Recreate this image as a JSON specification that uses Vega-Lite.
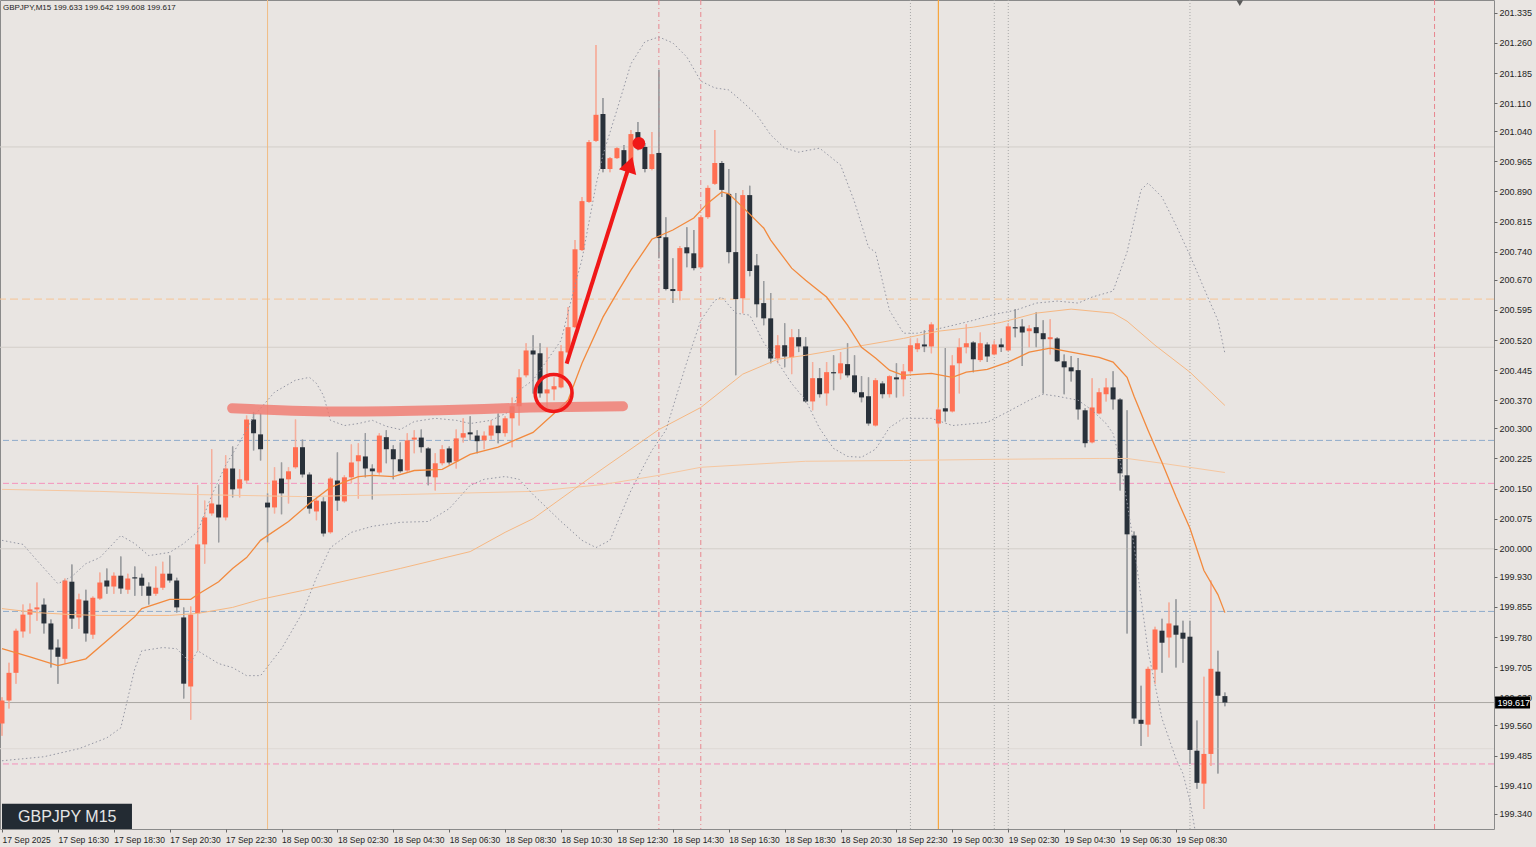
{
"$schema": "https://vega.github.io/schema/vega-lite/v6.json",
"width": 1494, "height": 829,
"autosize": {"type": "none"},
"padding": {"left": 0, "top": 0, "right": 42, "bottom": 18},
"background": "#E9E5E2",
"config": {"view": {"stroke": "#8A8A8A", "strokeWidth": 1}},
"resolve": {"axis": {"x": "independent", "y": "independent"}},
"datasets": {
"c": [
{"t":"2025-09-17T14:30Z","o":199.565,"h":199.630,"l":199.534,"c":199.622},
{"t":"2025-09-17T14:45Z","o":199.622,"h":199.716,"l":199.602,"c":199.691},
{"t":"2025-09-17T15:00Z","o":199.691,"h":199.801,"l":199.664,"c":199.796},
{"t":"2025-09-17T15:15Z","o":199.794,"h":199.861,"l":199.779,"c":199.836},
{"t":"2025-09-17T15:30Z","o":199.836,"h":199.864,"l":199.789,"c":199.849},
{"t":"2025-09-17T15:45Z","o":199.849,"h":199.916,"l":199.821,"c":199.854},
{"t":"2025-09-17T16:00Z","o":199.861,"h":199.876,"l":199.789,"c":199.814},
{"t":"2025-09-17T16:15Z","o":199.814,"h":199.824,"l":199.704,"c":199.749},
{"t":"2025-09-17T16:30Z","o":199.754,"h":199.774,"l":199.664,"c":199.731},
{"t":"2025-09-17T16:45Z","o":199.726,"h":199.926,"l":199.714,"c":199.921},
{"t":"2025-09-17T17:00Z","o":199.918,"h":199.961,"l":199.801,"c":199.826},
{"t":"2025-09-17T17:15Z","o":199.829,"h":199.888,"l":199.801,"c":199.874},
{"t":"2025-09-17T17:30Z","o":199.871,"h":199.898,"l":199.769,"c":199.789},
{"t":"2025-09-17T17:45Z","o":199.786,"h":199.881,"l":199.776,"c":199.878},
{"t":"2025-09-17T18:00Z","o":199.876,"h":199.941,"l":199.873,"c":199.916},
{"t":"2025-09-17T18:15Z","o":199.921,"h":199.951,"l":199.888,"c":199.906},
{"t":"2025-09-17T18:30Z","o":199.906,"h":199.941,"l":199.888,"c":199.933},
{"t":"2025-09-17T18:45Z","o":199.933,"h":199.981,"l":199.888,"c":199.901},
{"t":"2025-09-17T19:00Z","o":199.898,"h":199.938,"l":199.888,"c":199.926},
{"t":"2025-09-17T19:15Z","o":199.929,"h":199.956,"l":199.883,"c":199.926},
{"t":"2025-09-17T19:30Z","o":199.928,"h":199.938,"l":199.883,"c":199.908},
{"t":"2025-09-17T19:45Z","o":199.906,"h":199.916,"l":199.861,"c":199.883},
{"t":"2025-09-17T20:00Z","o":199.888,"h":199.956,"l":199.883,"c":199.903},
{"t":"2025-09-17T20:15Z","o":199.903,"h":199.968,"l":199.898,"c":199.938},
{"t":"2025-09-17T20:30Z","o":199.938,"h":199.983,"l":199.916,"c":199.921},
{"t":"2025-09-17T20:45Z","o":199.921,"h":199.928,"l":199.841,"c":199.854},
{"t":"2025-09-17T21:00Z","o":199.829,"h":199.854,"l":199.627,"c":199.664},
{"t":"2025-09-17T21:15Z","o":199.657,"h":199.856,"l":199.574,"c":199.836},
{"t":"2025-09-17T21:30Z","o":199.839,"h":200.158,"l":199.746,"c":200.011},
{"t":"2025-09-17T21:45Z","o":200.011,"h":200.120,"l":199.963,"c":200.078},
{"t":"2025-09-17T22:00Z","o":200.088,"h":200.248,"l":200.083,"c":200.113},
{"t":"2025-09-17T22:15Z","o":200.110,"h":200.160,"l":200.016,"c":200.078},
{"t":"2025-09-17T22:30Z","o":200.078,"h":200.233,"l":200.071,"c":200.200},
{"t":"2025-09-17T22:45Z","o":200.200,"h":200.255,"l":200.128,"c":200.148},
{"t":"2025-09-17T23:00Z","o":200.150,"h":200.198,"l":200.128,"c":200.173},
{"t":"2025-09-17T23:15Z","o":200.170,"h":200.332,"l":200.163,"c":200.322},
{"t":"2025-09-17T23:30Z","o":200.322,"h":200.340,"l":200.245,"c":200.288},
{"t":"2025-09-17T23:45Z","o":200.285,"h":200.337,"l":200.220,"c":200.248},
{"t":"2025-09-18T00:00Z","o":200.115,"h":200.138,"l":200.016,"c":200.103},
{"t":"2025-09-18T00:15Z","o":200.103,"h":200.203,"l":200.088,"c":200.170},
{"t":"2025-09-18T00:30Z","o":200.175,"h":200.215,"l":200.086,"c":200.138},
{"t":"2025-09-18T00:45Z","o":200.173,"h":200.203,"l":200.113,"c":200.193},
{"t":"2025-09-18T01:00Z","o":200.203,"h":200.322,"l":200.200,"c":200.253},
{"t":"2025-09-18T01:15Z","o":200.253,"h":200.272,"l":200.178,"c":200.185},
{"t":"2025-09-18T01:30Z","o":200.185,"h":200.190,"l":200.088,"c":200.100},
{"t":"2025-09-18T01:45Z","o":200.093,"h":200.128,"l":200.071,"c":200.120},
{"t":"2025-09-18T02:00Z","o":200.118,"h":200.128,"l":200.031,"c":200.038},
{"t":"2025-09-18T02:15Z","o":200.041,"h":200.178,"l":200.038,"c":200.175},
{"t":"2025-09-18T02:30Z","o":200.170,"h":200.240,"l":200.095,"c":200.120},
{"t":"2025-09-18T02:45Z","o":200.118,"h":200.183,"l":200.115,"c":200.178},
{"t":"2025-09-18T03:00Z","o":200.178,"h":200.260,"l":200.163,"c":200.215},
{"t":"2025-09-18T03:15Z","o":200.218,"h":200.263,"l":200.125,"c":200.233},
{"t":"2025-09-18T03:30Z","o":200.230,"h":200.288,"l":200.178,"c":200.200},
{"t":"2025-09-18T03:45Z","o":200.200,"h":200.210,"l":200.123,"c":200.193},
{"t":"2025-09-18T04:00Z","o":200.190,"h":200.288,"l":200.185,"c":200.282},
{"t":"2025-09-18T04:15Z","o":200.278,"h":200.295,"l":200.213,"c":200.248},
{"t":"2025-09-18T04:30Z","o":200.248,"h":200.258,"l":200.173,"c":200.223},
{"t":"2025-09-18T04:45Z","o":200.223,"h":200.265,"l":200.190,"c":200.193},
{"t":"2025-09-18T05:00Z","o":200.195,"h":200.288,"l":200.190,"c":200.270},
{"t":"2025-09-18T05:15Z","o":200.272,"h":200.295,"l":200.238,"c":200.277},
{"t":"2025-09-18T05:30Z","o":200.277,"h":200.297,"l":200.240,"c":200.253},
{"t":"2025-09-18T05:45Z","o":200.250,"h":200.253,"l":200.158,"c":200.180},
{"t":"2025-09-18T06:00Z","o":200.178,"h":200.238,"l":200.145,"c":200.213},
{"t":"2025-09-18T06:15Z","o":200.213,"h":200.258,"l":200.208,"c":200.248},
{"t":"2025-09-18T06:30Z","o":200.250,"h":200.255,"l":200.210,"c":200.215},
{"t":"2025-09-18T06:45Z","o":200.218,"h":200.297,"l":200.200,"c":200.275},
{"t":"2025-09-18T07:00Z","o":200.277,"h":200.325,"l":200.265,"c":200.288},
{"t":"2025-09-18T07:15Z","o":200.290,"h":200.330,"l":200.270,"c":200.285},
{"t":"2025-09-18T07:30Z","o":200.282,"h":200.295,"l":200.238,"c":200.268},
{"t":"2025-09-18T07:45Z","o":200.270,"h":200.292,"l":200.248,"c":200.282},
{"t":"2025-09-18T08:00Z","o":200.282,"h":200.320,"l":200.272,"c":200.307},
{"t":"2025-09-18T08:15Z","o":200.307,"h":200.337,"l":200.263,"c":200.288},
{"t":"2025-09-18T08:30Z","o":200.288,"h":200.330,"l":200.280,"c":200.325},
{"t":"2025-09-18T08:45Z","o":200.325,"h":200.377,"l":200.253,"c":200.355},
{"t":"2025-09-18T09:00Z","o":200.355,"h":200.447,"l":200.307,"c":200.427},
{"t":"2025-09-18T09:15Z","o":200.432,"h":200.512,"l":200.427,"c":200.494},
{"t":"2025-09-18T09:30Z","o":200.494,"h":200.532,"l":200.387,"c":200.484},
{"t":"2025-09-18T09:45Z","o":200.487,"h":200.512,"l":200.377,"c":200.387},
{"t":"2025-09-18T10:00Z","o":200.387,"h":200.502,"l":200.350,"c":200.397},
{"t":"2025-09-18T10:15Z","o":200.397,"h":200.427,"l":200.370,"c":200.405},
{"t":"2025-09-18T10:30Z","o":200.402,"h":200.507,"l":200.400,"c":200.492},
{"t":"2025-09-18T10:45Z","o":200.489,"h":200.602,"l":200.487,"c":200.552},
{"t":"2025-09-18T11:00Z","o":200.552,"h":200.769,"l":200.550,"c":200.746},
{"t":"2025-09-18T11:15Z","o":200.744,"h":200.876,"l":200.742,"c":200.866},
{"t":"2025-09-18T11:30Z","o":200.864,"h":201.018,"l":200.862,"c":201.013},
{"t":"2025-09-18T11:45Z","o":201.016,"h":201.255,"l":201.013,"c":201.081},
{"t":"2025-09-18T12:00Z","o":201.083,"h":201.123,"l":200.938,"c":200.946},
{"t":"2025-09-18T12:15Z","o":200.946,"h":200.976,"l":200.938,"c":200.973},
{"t":"2025-09-18T12:30Z","o":200.973,"h":201.001,"l":200.971,"c":200.998},
{"t":"2025-09-18T12:45Z","o":200.993,"h":201.006,"l":200.943,"c":200.951},
{"t":"2025-09-18T13:00Z","o":200.951,"h":201.043,"l":200.948,"c":201.033},
{"t":"2025-09-18T13:15Z","o":201.038,"h":201.063,"l":200.993,"c":201.001},
{"t":"2025-09-18T13:30Z","o":201.001,"h":201.011,"l":200.938,"c":200.946},
{"t":"2025-09-18T13:45Z","o":200.946,"h":201.038,"l":200.943,"c":200.983},
{"t":"2025-09-18T14:00Z","o":200.986,"h":201.193,"l":200.724,"c":200.774},
{"t":"2025-09-18T14:15Z","o":200.776,"h":200.826,"l":200.644,"c":200.647},
{"t":"2025-09-18T14:30Z","o":200.647,"h":200.724,"l":200.612,"c":200.642},
{"t":"2025-09-18T14:45Z","o":200.642,"h":200.754,"l":200.619,"c":200.749},
{"t":"2025-09-18T15:00Z","o":200.751,"h":200.801,"l":200.701,"c":200.736},
{"t":"2025-09-18T15:15Z","o":200.736,"h":200.794,"l":200.694,"c":200.699},
{"t":"2025-09-18T15:30Z","o":200.701,"h":200.831,"l":200.699,"c":200.826},
{"t":"2025-09-18T15:45Z","o":200.826,"h":200.905,"l":200.822,"c":200.899},
{"t":"2025-09-18T16:00Z","o":200.909,"h":201.043,"l":200.906,"c":200.961},
{"t":"2025-09-18T16:15Z","o":200.961,"h":200.966,"l":200.876,"c":200.894},
{"t":"2025-09-18T16:30Z","o":200.884,"h":200.946,"l":200.711,"c":200.739},
{"t":"2025-09-18T16:45Z","o":200.739,"h":200.886,"l":200.432,"c":200.622},
{"t":"2025-09-18T17:00Z","o":200.624,"h":200.894,"l":200.587,"c":200.881},
{"t":"2025-09-18T17:15Z","o":200.881,"h":200.904,"l":200.679,"c":200.692},
{"t":"2025-09-18T17:30Z","o":200.706,"h":200.734,"l":200.577,"c":200.609},
{"t":"2025-09-18T17:45Z","o":200.612,"h":200.667,"l":200.557,"c":200.574},
{"t":"2025-09-18T18:00Z","o":200.574,"h":200.637,"l":200.462,"c":200.474},
{"t":"2025-09-18T18:15Z","o":200.474,"h":200.532,"l":200.462,"c":200.507},
{"t":"2025-09-18T18:30Z","o":200.507,"h":200.562,"l":200.452,"c":200.479},
{"t":"2025-09-18T18:45Z","o":200.477,"h":200.547,"l":200.435,"c":200.527},
{"t":"2025-09-18T19:00Z","o":200.527,"h":200.547,"l":200.490,"c":200.504},
{"t":"2025-09-18T19:15Z","o":200.504,"h":200.527,"l":200.364,"c":200.367},
{"t":"2025-09-18T19:30Z","o":200.367,"h":200.465,"l":200.345,"c":200.425},
{"t":"2025-09-18T19:45Z","o":200.425,"h":200.450,"l":200.377,"c":200.385},
{"t":"2025-09-18T20:00Z","o":200.387,"h":200.465,"l":200.357,"c":200.440},
{"t":"2025-09-18T20:15Z","o":200.440,"h":200.482,"l":200.395,"c":200.437},
{"t":"2025-09-18T20:30Z","o":200.437,"h":200.490,"l":200.422,"c":200.462},
{"t":"2025-09-18T20:45Z","o":200.460,"h":200.512,"l":200.427,"c":200.432},
{"t":"2025-09-18T21:00Z","o":200.432,"h":200.482,"l":200.387,"c":200.390},
{"t":"2025-09-18T21:15Z","o":200.390,"h":200.430,"l":200.365,"c":200.377},
{"t":"2025-09-18T21:30Z","o":200.380,"h":200.427,"l":200.307,"c":200.312},
{"t":"2025-09-18T21:45Z","o":200.307,"h":200.425,"l":200.305,"c":200.420},
{"t":"2025-09-18T22:00Z","o":200.412,"h":200.417,"l":200.375,"c":200.385},
{"t":"2025-09-18T22:15Z","o":200.385,"h":200.432,"l":200.377,"c":200.430},
{"t":"2025-09-18T22:30Z","o":200.427,"h":200.462,"l":200.377,"c":200.422},
{"t":"2025-09-18T22:45Z","o":200.422,"h":200.460,"l":200.380,"c":200.442},
{"t":"2025-09-18T23:00Z","o":200.442,"h":200.524,"l":200.437,"c":200.507},
{"t":"2025-09-18T23:15Z","o":200.497,"h":200.524,"l":200.490,"c":200.512},
{"t":"2025-09-18T23:30Z","o":200.509,"h":200.544,"l":200.490,"c":200.504},
{"t":"2025-09-18T23:45Z","o":200.504,"h":200.564,"l":200.487,"c":200.559},
{"t":"2025-09-19T00:00Z","o":200.312,"h":200.352,"l":200.302,"c":200.347},
{"t":"2025-09-19T00:15Z","o":200.350,"h":200.500,"l":200.317,"c":200.342},
{"t":"2025-09-19T00:30Z","o":200.342,"h":200.482,"l":200.340,"c":200.457},
{"t":"2025-09-19T00:45Z","o":200.462,"h":200.524,"l":200.387,"c":200.502},
{"t":"2025-09-19T01:00Z","o":200.502,"h":200.559,"l":200.487,"c":200.512},
{"t":"2025-09-19T01:15Z","o":200.514,"h":200.517,"l":200.440,"c":200.472},
{"t":"2025-09-19T01:30Z","o":200.470,"h":200.539,"l":200.465,"c":200.512},
{"t":"2025-09-19T01:45Z","o":200.509,"h":200.514,"l":200.465,"c":200.479},
{"t":"2025-09-19T02:00Z","o":200.484,"h":200.519,"l":200.482,"c":200.509},
{"t":"2025-09-19T02:15Z","o":200.509,"h":200.524,"l":200.490,"c":200.502},
{"t":"2025-09-19T02:30Z","o":200.494,"h":200.562,"l":200.492,"c":200.554},
{"t":"2025-09-19T02:45Z","o":200.552,"h":200.597,"l":200.527,"c":200.549},
{"t":"2025-09-19T03:00Z","o":200.554,"h":200.572,"l":200.455,"c":200.539},
{"t":"2025-09-19T03:15Z","o":200.542,"h":200.557,"l":200.502,"c":200.549},
{"t":"2025-09-19T03:30Z","o":200.552,"h":200.589,"l":200.502,"c":200.537},
{"t":"2025-09-19T03:45Z","o":200.537,"h":200.569,"l":200.387,"c":200.522},
{"t":"2025-09-19T04:00Z","o":200.522,"h":200.572,"l":200.484,"c":200.527},
{"t":"2025-09-19T04:15Z","o":200.524,"h":200.527,"l":200.465,"c":200.467},
{"t":"2025-09-19T04:30Z","o":200.467,"h":200.484,"l":200.385,"c":200.452},
{"t":"2025-09-19T04:45Z","o":200.452,"h":200.480,"l":200.417,"c":200.442},
{"t":"2025-09-19T05:00Z","o":200.445,"h":200.475,"l":200.322,"c":200.347},
{"t":"2025-09-19T05:15Z","o":200.345,"h":200.350,"l":200.253,"c":200.263},
{"t":"2025-09-19T05:30Z","o":200.265,"h":200.425,"l":200.263,"c":200.352},
{"t":"2025-09-19T05:45Z","o":200.337,"h":200.400,"l":200.335,"c":200.390},
{"t":"2025-09-19T06:00Z","o":200.385,"h":200.425,"l":200.367,"c":200.402},
{"t":"2025-09-19T06:15Z","o":200.402,"h":200.442,"l":200.347,"c":200.372},
{"t":"2025-09-19T06:30Z","o":200.372,"h":200.375,"l":200.145,"c":200.188},
{"t":"2025-09-19T06:45Z","o":200.183,"h":200.345,"l":199.789,"c":200.036},
{"t":"2025-09-19T07:00Z","o":200.033,"h":200.043,"l":199.564,"c":199.577},
{"t":"2025-09-19T07:15Z","o":199.574,"h":199.659,"l":199.509,"c":199.564},
{"t":"2025-09-19T07:30Z","o":199.562,"h":199.706,"l":199.532,"c":199.701},
{"t":"2025-09-19T07:45Z","o":199.699,"h":199.806,"l":199.664,"c":199.799},
{"t":"2025-09-19T08:00Z","o":199.796,"h":199.826,"l":199.691,"c":199.766},
{"t":"2025-09-19T08:15Z","o":199.779,"h":199.866,"l":199.729,"c":199.814},
{"t":"2025-09-19T08:30Z","o":199.809,"h":199.874,"l":199.704,"c":199.786},
{"t":"2025-09-19T08:45Z","o":199.791,"h":199.821,"l":199.716,"c":199.776},
{"t":"2025-09-19T09:00Z","o":199.781,"h":199.821,"l":199.464,"c":199.499},
{"t":"2025-09-19T09:15Z","o":199.497,"h":199.572,"l":199.402,"c":199.417},
{"t":"2025-09-19T09:30Z","o":199.415,"h":199.681,"l":199.352,"c":199.489},
{"t":"2025-09-19T09:45Z","o":199.489,"h":199.921,"l":199.459,"c":199.701},
{"t":"2025-09-19T10:00Z","o":199.694,"h":199.746,"l":199.440,"c":199.634},
{"t":"2025-09-19T10:15Z","o":199.633,"h":199.642,"l":199.608,"c":199.617}
],
"ind": [
{"k":"ma","t":"2025-09-17T14:30Z","v":199.751},{"k":"ma","t":"2025-09-17T15:30Z","v":199.731},{"k":"ma","t":"2025-09-17T16:30Z","v":199.709},{"k":"ma","t":"2025-09-17T17:30Z","v":199.726},{"k":"ma","t":"2025-09-17T18:30Z","v":199.786},{"k":"ma","t":"2025-09-17T19:15Z","v":199.831},{"k":"ma","t":"2025-09-17T19:30Z","v":199.851},{"k":"ma","t":"2025-09-17T20:30Z","v":199.874},{"k":"ma","t":"2025-09-17T21:15Z","v":199.874},{"k":"ma","t":"2025-09-17T21:30Z","v":199.886},{"k":"ma","t":"2025-09-17T22:15Z","v":199.918},{"k":"ma","t":"2025-09-17T22:45Z","v":199.951},{"k":"ma","t":"2025-09-17T23:15Z","v":199.978},{"k":"ma","t":"2025-09-17T23:45Z","v":200.021},{"k":"ma","t":"2025-09-18T00:45Z","v":200.068},{"k":"ma","t":"2025-09-18T01:30Z","v":200.113},{"k":"ma","t":"2025-09-18T02:15Z","v":200.153},{"k":"ma","t":"2025-09-18T03:15Z","v":200.180},{"k":"ma","t":"2025-09-18T03:45Z","v":200.183},{"k":"ma","t":"2025-09-18T04:30Z","v":200.180},{"k":"ma","t":"2025-09-18T05:15Z","v":200.195},{"k":"ma","t":"2025-09-18T06:15Z","v":200.198},{"k":"ma","t":"2025-09-18T07:15Z","v":200.235},{"k":"ma","t":"2025-09-18T08:15Z","v":200.253},{"k":"ma","t":"2025-09-18T09:30Z","v":200.290},{"k":"ma","t":"2025-09-18T10:15Z","v":200.337},{"k":"ma","t":"2025-09-18T10:45Z","v":200.370},{"k":"ma","t":"2025-09-18T11:15Z","v":200.462},{"k":"ma","t":"2025-09-18T12:00Z","v":200.577},{"k":"ma","t":"2025-09-18T12:30Z","v":200.637},{"k":"ma","t":"2025-09-18T13:00Z","v":200.694},{"k":"ma","t":"2025-09-18T13:45Z","v":200.771},{"k":"ma","t":"2025-09-18T14:30Z","v":200.794},{"k":"ma","t":"2025-09-18T15:15Z","v":200.824},{"k":"ma","t":"2025-09-18T15:45Z","v":200.861},{"k":"ma","t":"2025-09-18T16:15Z","v":200.889},{"k":"ma","t":"2025-09-18T16:30Z","v":200.884},{"k":"ma","t":"2025-09-18T17:00Z","v":200.851},{"k":"ma","t":"2025-09-18T17:45Z","v":200.799},{"k":"ma","t":"2025-09-18T18:00Z","v":200.769},{"k":"ma","t":"2025-09-18T18:45Z","v":200.699},{"k":"ma","t":"2025-09-18T19:15Z","v":200.669},{"k":"ma","t":"2025-09-18T20:00Z","v":200.627},{"k":"ma","t":"2025-09-18T20:45Z","v":200.557},{"k":"ma","t":"2025-09-18T21:15Z","v":200.502},{"k":"ma","t":"2025-09-18T21:45Z","v":200.475},{"k":"ma","t":"2025-09-18T22:15Z","v":200.445},{"k":"ma","t":"2025-09-18T22:45Z","v":200.432},{"k":"ma","t":"2025-09-18T23:45Z","v":200.437},{"k":"ma","t":"2025-09-19T00:30Z","v":200.427},{"k":"ma","t":"2025-09-19T01:00Z","v":200.440},{"k":"ma","t":"2025-09-19T01:45Z","v":200.447},{"k":"ma","t":"2025-09-19T02:30Z","v":200.465},{"k":"ma","t":"2025-09-19T03:15Z","v":200.490},{"k":"ma","t":"2025-09-19T04:00Z","v":200.500},{"k":"ma","t":"2025-09-19T04:45Z","v":200.490},{"k":"ma","t":"2025-09-19T05:45Z","v":200.477},{"k":"ma","t":"2025-09-19T06:15Z","v":200.465},{"k":"ma","t":"2025-09-19T06:45Z","v":200.427},{"k":"ma","t":"2025-09-19T07:00Z","v":200.380},{"k":"ma","t":"2025-09-19T07:30Z","v":200.295},{"k":"ma","t":"2025-09-19T08:00Z","v":200.215},{"k":"ma","t":"2025-09-19T08:30Z","v":200.130},{"k":"ma","t":"2025-09-19T09:00Z","v":200.051},{"k":"ma","t":"2025-09-19T09:30Z","v":199.946},{"k":"ma","t":"2025-09-19T10:00Z","v":199.886},{"k":"ma","t":"2025-09-19T10:15Z","v":199.841},
{"k":"s1","t":"2025-09-17T14:30Z","v":199.851},{"k":"s1","t":"2025-09-17T15:45Z","v":199.841},{"k":"s1","t":"2025-09-17T17:00Z","v":199.836},{"k":"s1","t":"2025-09-17T18:00Z","v":199.834},{"k":"s1","t":"2025-09-17T20:30Z","v":199.834},{"k":"s1","t":"2025-09-17T21:30Z","v":199.839},{"k":"s1","t":"2025-09-17T22:45Z","v":199.854},{"k":"s1","t":"2025-09-17T23:45Z","v":199.874},{"k":"s1","t":"2025-09-18T01:15Z","v":199.896},{"k":"s1","t":"2025-09-18T04:45Z","v":199.951},{"k":"s1","t":"2025-09-18T07:15Z","v":199.993},{"k":"s1","t":"2025-09-18T08:30Z","v":200.041},{"k":"s1","t":"2025-09-18T09:30Z","v":200.075},{"k":"s1","t":"2025-09-18T12:00Z","v":200.200},{"k":"s1","t":"2025-09-18T14:00Z","v":200.297},{"k":"s1","t":"2025-09-18T15:30Z","v":200.352},{"k":"s1","t":"2025-09-18T17:00Z","v":200.435},{"k":"s1","t":"2025-09-18T18:15Z","v":200.472},{"k":"s1","t":"2025-09-18T19:15Z","v":200.482},{"k":"s1","t":"2025-09-18T20:45Z","v":200.500},{"k":"s1","t":"2025-09-18T22:45Z","v":200.524},{"k":"s1","t":"2025-09-19T00:00Z","v":200.542},{"k":"s1","t":"2025-09-19T01:15Z","v":200.552},{"k":"s1","t":"2025-09-19T02:15Z","v":200.564},{"k":"s1","t":"2025-09-19T03:30Z","v":200.587},{"k":"s1","t":"2025-09-19T04:45Z","v":200.597},{"k":"s1","t":"2025-09-19T05:30Z","v":200.592},{"k":"s1","t":"2025-09-19T06:15Z","v":200.587},{"k":"s1","t":"2025-09-19T06:45Z","v":200.567},{"k":"s1","t":"2025-09-19T07:45Z","v":200.507},{"k":"s1","t":"2025-09-19T09:00Z","v":200.440},{"k":"s1","t":"2025-09-19T10:15Z","v":200.357},
{"k":"s2","t":"2025-09-17T14:30Z","v":200.148},{"k":"s2","t":"2025-09-17T18:00Z","v":200.143},{"k":"s2","t":"2025-09-17T21:30Z","v":200.135},{"k":"s2","t":"2025-09-18T01:15Z","v":200.130},{"k":"s2","t":"2025-09-18T04:45Z","v":200.135},{"k":"s2","t":"2025-09-18T09:30Z","v":200.143},{"k":"s2","t":"2025-09-18T12:00Z","v":200.160},{"k":"s2","t":"2025-09-18T14:00Z","v":200.183},{"k":"s2","t":"2025-09-18T15:30Z","v":200.203},{"k":"s2","t":"2025-09-18T19:15Z","v":200.218},{"k":"s2","t":"2025-09-18T22:45Z","v":200.220},{"k":"s2","t":"2025-09-19T02:15Z","v":200.223},{"k":"s2","t":"2025-09-19T05:45Z","v":200.225},{"k":"s2","t":"2025-09-19T06:45Z","v":200.225},{"k":"s2","t":"2025-09-19T08:00Z","v":200.213},{"k":"s2","t":"2025-09-19T10:15Z","v":200.190},
{"k":"bu","t":"2025-09-17T14:30Z","v":200.021},{"k":"bu","t":"2025-09-17T15:15Z","v":200.011},{"k":"bu","t":"2025-09-17T15:45Z","v":199.971},{"k":"bu","t":"2025-09-17T16:30Z","v":199.913},{"k":"bu","t":"2025-09-17T17:00Z","v":199.931},{"k":"bu","t":"2025-09-17T17:30Z","v":199.963},{"k":"bu","t":"2025-09-17T18:00Z","v":199.978},{"k":"bu","t":"2025-09-17T18:45Z","v":200.033},{"k":"bu","t":"2025-09-17T19:15Z","v":200.013},{"k":"bu","t":"2025-09-17T19:45Z","v":199.983},{"k":"bu","t":"2025-09-17T20:30Z","v":199.991},{"k":"bu","t":"2025-09-17T21:00Z","v":200.013},{"k":"bu","t":"2025-09-17T21:30Z","v":200.043},{"k":"bu","t":"2025-09-17T22:00Z","v":200.133},{"k":"bu","t":"2025-09-17T22:30Z","v":200.208},{"k":"bu","t":"2025-09-17T23:00Z","v":200.265},{"k":"bu","t":"2025-09-17T23:30Z","v":200.330},{"k":"bu","t":"2025-09-18T00:15Z","v":200.390},{"k":"bu","t":"2025-09-18T01:00Z","v":200.420},{"k":"bu","t":"2025-09-18T01:30Z","v":200.427},{"k":"bu","t":"2025-09-18T01:45Z","v":200.412},{"k":"bu","t":"2025-09-18T02:00Z","v":200.382},{"k":"bu","t":"2025-09-18T02:15Z","v":200.320},{"k":"bu","t":"2025-09-18T02:45Z","v":200.307},{"k":"bu","t":"2025-09-18T03:15Z","v":200.312},{"k":"bu","t":"2025-09-18T03:45Z","v":200.320},{"k":"bu","t":"2025-09-18T04:15Z","v":200.305},{"k":"bu","t":"2025-09-18T04:45Z","v":200.297},{"k":"bu","t":"2025-09-18T05:15Z","v":200.317},{"k":"bu","t":"2025-09-18T06:00Z","v":200.325},{"k":"bu","t":"2025-09-18T06:45Z","v":200.320},{"k":"bu","t":"2025-09-18T07:15Z","v":200.312},{"k":"bu","t":"2025-09-18T08:00Z","v":200.320},{"k":"bu","t":"2025-09-18T08:45Z","v":200.345},{"k":"bu","t":"2025-09-18T09:00Z","v":200.395},{"k":"bu","t":"2025-09-18T09:30Z","v":200.420},{"k":"bu","t":"2025-09-18T10:30Z","v":200.519},{"k":"bu","t":"2025-09-18T11:00Z","v":200.657},{"k":"bu","t":"2025-09-18T11:15Z","v":200.721},{"k":"bu","t":"2025-09-18T11:45Z","v":200.906},{"k":"bu","t":"2025-09-18T12:00Z","v":200.981},{"k":"bu","t":"2025-09-18T12:30Z","v":201.093},{"k":"bu","t":"2025-09-18T13:00Z","v":201.208},{"k":"bu","t":"2025-09-18T13:30Z","v":201.263},{"k":"bu","t":"2025-09-18T14:00Z","v":201.275},{"k":"bu","t":"2025-09-18T14:30Z","v":201.260},{"k":"bu","t":"2025-09-18T15:00Z","v":201.225},{"k":"bu","t":"2025-09-18T15:30Z","v":201.165},{"k":"bu","t":"2025-09-18T16:00Z","v":201.148},{"k":"bu","t":"2025-09-18T16:30Z","v":201.143},{"k":"bu","t":"2025-09-18T17:00Z","v":201.113},{"k":"bu","t":"2025-09-18T17:30Z","v":201.081},{"k":"bu","t":"2025-09-18T18:00Z","v":201.031},{"k":"bu","t":"2025-09-18T18:30Z","v":200.998},{"k":"bu","t":"2025-09-18T19:00Z","v":200.988},{"k":"bu","t":"2025-09-18T19:45Z","v":200.998},{"k":"bu","t":"2025-09-18T20:30Z","v":200.956},{"k":"bu","t":"2025-09-18T21:00Z","v":200.864},{"k":"bu","t":"2025-09-18T21:30Z","v":200.751},{"k":"bu","t":"2025-09-18T21:45Z","v":200.739},{"k":"bu","t":"2025-09-18T22:15Z","v":200.594},{"k":"bu","t":"2025-09-18T22:45Z","v":200.537},{"k":"bu","t":"2025-09-18T23:15Z","v":200.537},{"k":"bu","t":"2025-09-19T00:15Z","v":200.552},{"k":"bu","t":"2025-09-19T01:15Z","v":200.569},{"k":"bu","t":"2025-09-19T02:00Z","v":200.584},{"k":"bu","t":"2025-09-19T02:45Z","v":200.594},{"k":"bu","t":"2025-09-19T03:30Z","v":200.612},{"k":"bu","t":"2025-09-19T04:15Z","v":200.617},{"k":"bu","t":"2025-09-19T05:00Z","v":200.612},{"k":"bu","t":"2025-09-19T05:30Z","v":200.627},{"k":"bu","t":"2025-09-19T06:15Z","v":200.642},{"k":"bu","t":"2025-09-19T06:45Z","v":200.739},{"k":"bu","t":"2025-09-19T07:15Z","v":200.894},{"k":"bu","t":"2025-09-19T07:30Z","v":200.911},{"k":"bu","t":"2025-09-19T08:00Z","v":200.876},{"k":"bu","t":"2025-09-19T08:30Z","v":200.806},{"k":"bu","t":"2025-09-19T09:00Z","v":200.731},{"k":"bu","t":"2025-09-19T09:30Z","v":200.649},{"k":"bu","t":"2025-09-19T10:00Z","v":200.569},{"k":"bu","t":"2025-09-19T10:15Z","v":200.487},
{"k":"bl","t":"2025-09-17T14:30Z","v":199.472},{"k":"bl","t":"2025-09-17T16:00Z","v":199.482},{"k":"bl","t":"2025-09-17T17:15Z","v":199.502},{"k":"bl","t":"2025-09-17T18:15Z","v":199.529},{"k":"bl","t":"2025-09-17T18:45Z","v":199.554},{"k":"bl","t":"2025-09-17T19:15Z","v":199.701},{"k":"bl","t":"2025-09-17T19:30Z","v":199.746},{"k":"bl","t":"2025-09-17T20:15Z","v":199.754},{"k":"bl","t":"2025-09-17T20:45Z","v":199.751},{"k":"bl","t":"2025-09-17T21:15Z","v":199.716},{"k":"bl","t":"2025-09-17T21:30Z","v":199.746},{"k":"bl","t":"2025-09-17T22:15Z","v":199.714},{"k":"bl","t":"2025-09-17T22:45Z","v":199.704},{"k":"bl","t":"2025-09-17T23:15Z","v":199.684},{"k":"bl","t":"2025-09-17T23:45Z","v":199.684},{"k":"bl","t":"2025-09-18T00:30Z","v":199.751},{"k":"bl","t":"2025-09-18T01:15Z","v":199.841},{"k":"bl","t":"2025-09-18T01:45Z","v":199.928},{"k":"bl","t":"2025-09-18T02:15Z","v":200.003},{"k":"bl","t":"2025-09-18T03:00Z","v":200.041},{"k":"bl","t":"2025-09-18T03:45Z","v":200.056},{"k":"bl","t":"2025-09-18T04:45Z","v":200.066},{"k":"bl","t":"2025-09-18T05:45Z","v":200.068},{"k":"bl","t":"2025-09-18T06:30Z","v":200.100},{"k":"bl","t":"2025-09-18T07:15Z","v":200.158},{"k":"bl","t":"2025-09-18T07:45Z","v":200.173},{"k":"bl","t":"2025-09-18T08:30Z","v":200.180},{"k":"bl","t":"2025-09-18T09:00Z","v":200.173},{"k":"bl","t":"2025-09-18T09:30Z","v":200.135},{"k":"bl","t":"2025-09-18T10:30Z","v":200.068},{"k":"bl","t":"2025-09-18T11:15Z","v":200.021},{"k":"bl","t":"2025-09-18T11:45Z","v":200.003},{"k":"bl","t":"2025-09-18T12:15Z","v":200.021},{"k":"bl","t":"2025-09-18T13:00Z","v":200.145},{"k":"bl","t":"2025-09-18T13:45Z","v":200.245},{"k":"bl","t":"2025-09-18T14:15Z","v":200.295},{"k":"bl","t":"2025-09-18T15:00Z","v":200.465},{"k":"bl","t":"2025-09-18T15:30Z","v":200.569},{"k":"bl","t":"2025-09-18T16:00Z","v":200.619},{"k":"bl","t":"2025-09-18T16:15Z","v":200.627},{"k":"bl","t":"2025-09-18T16:45Z","v":200.587},{"k":"bl","t":"2025-09-18T17:15Z","v":200.582},{"k":"bl","t":"2025-09-18T17:45Z","v":200.514},{"k":"bl","t":"2025-09-18T18:15Z","v":200.465},{"k":"bl","t":"2025-09-18T18:45Z","v":200.412},{"k":"bl","t":"2025-09-18T19:15Z","v":200.370},{"k":"bl","t":"2025-09-18T19:45Z","v":200.300},{"k":"bl","t":"2025-09-18T20:15Z","v":200.250},{"k":"bl","t":"2025-09-18T20:45Z","v":200.230},{"k":"bl","t":"2025-09-18T21:15Z","v":200.228},{"k":"bl","t":"2025-09-18T21:45Z","v":200.248},{"k":"bl","t":"2025-09-18T22:15Z","v":200.302},{"k":"bl","t":"2025-09-18T22:45Z","v":200.325},{"k":"bl","t":"2025-09-18T23:45Z","v":200.325},{"k":"bl","t":"2025-09-19T00:30Z","v":200.307},{"k":"bl","t":"2025-09-19T01:45Z","v":200.315},{"k":"bl","t":"2025-09-19T02:30Z","v":200.342},{"k":"bl","t":"2025-09-19T03:15Z","v":200.370},{"k":"bl","t":"2025-09-19T03:45Z","v":200.385},{"k":"bl","t":"2025-09-19T04:15Z","v":200.380},{"k":"bl","t":"2025-09-19T05:00Z","v":200.370},{"k":"bl","t":"2025-09-19T05:30Z","v":200.345},{"k":"bl","t":"2025-09-19T06:00Z","v":200.312},{"k":"bl","t":"2025-09-19T06:15Z","v":200.287},{"k":"bl","t":"2025-09-19T06:30Z","v":200.220},{"k":"bl","t":"2025-09-19T06:45Z","v":200.115},{"k":"bl","t":"2025-09-19T07:00Z","v":200.008},{"k":"bl","t":"2025-09-19T07:30Z","v":199.746},{"k":"bl","t":"2025-09-19T08:00Z","v":199.577},{"k":"bl","t":"2025-09-19T08:30Z","v":199.477},{"k":"bl","t":"2025-09-19T08:45Z","v":199.440},{"k":"bl","t":"2025-09-19T09:00Z","v":199.372},{"k":"bl","t":"2025-09-19T09:15Z","v":199.272}
],
"hl": [
{"p":201.001,"k":"g"},{"p":200.502,"k":"g"},{"p":200.0,"k":"g"},{"p":199.502,"k":"g2"},{"p":199.617,"k":"cur"},
{"p":200.270,"k":"b"},{"p":199.844,"k":"b"},{"p":200.163,"k":"p"},{"p":199.464,"k":"p"},{"p":200.622,"k":"o"}
],
"vl": [
{"t":"2025-09-18T00:00Z","k":"o1"},{"t":"2025-09-19T00:00Z","k":"o2"},
{"t":"2025-09-18T14:00Z","k":"pd"},{"t":"2025-09-18T15:30Z","k":"pd"},{"t":"2025-09-19T17:45Z","k":"pk"},
{"t":"2025-09-18T23:00Z","k":"gd"},{"t":"2025-09-19T02:00Z","k":"gd"},{"t":"2025-09-19T02:30Z","k":"gd"},{"t":"2025-09-19T09:00Z","k":"gd"}
],
"stroke": [
{"t":"2025-09-17T22:44Z","p":200.350},{"t":"2025-09-18T02:36Z","p":200.342},{"t":"2025-09-18T06:10Z","p":200.345},{"t":"2025-09-18T09:23Z","p":200.352},{"t":"2025-09-18T12:43Z","p":200.355}
],
"circle": [{"t":"2025-09-18T10:14Z","p":200.388}],
"arrow": [{"t":"2025-09-18T10:42Z","p":200.461},{"t":"2025-09-18T12:56Z","p":200.953}],
"head": [{"t":"2025-09-18T12:58Z","p":200.957}],
"dot": [{"t":"2025-09-18T13:17Z","p":201.010}],
"boxes": [
{"k":"sym","t":"2025-09-17T14:30Z","t2":"2025-09-17T19:09Z","tm":"2025-09-17T16:50Z","p":199.365,"p2":199.302,"pm":199.333,"txt":"GBPJPY M15"},
{"k":"px","t":"2025-09-19T19:55Z","t2":"2025-09-19T21:10Z","tm":"2025-09-19T20:00Z","p":199.632,"p2":199.602,"pm":199.617,"txt":"199.617"}
],
"hdr": [{"t":"2025-09-17T14:32Z","p":201.348,"txt":"GBPJPY,M15  199.633 199.642 199.608 199.617"}],
"tri": [{"t":"2025-09-19T10:47Z","p":201.359}]
},
"layer": [
{"data":{"name":"c"},"mark":{"type":"rule","strokeWidth":1.3},
 "encoding":{
  "x":{"field":"t","type":"temporal","scale":{"type":"utc","domain":[1758119142600,1758311559000],"padding":0},"title":null,
   "axis":{"orient":"bottom","values":[1758119400000,1758126600000,1758133800000,1758141000000,1758148200000,1758155400000,1758162600000,1758169800000,1758177000000,1758184200000,1758191400000,1758198600000,1758205800000,1758213000000,1758220200000,1758227400000,1758234600000,1758241800000,1758249000000,1758256200000,1758263400000,1758270600000],
    "labelExpr":"time(datum.value) == 1758119400000 ? '17 Sep 2025' : utcFormat(datum.value, '%d %b %H:%M')",
    "labelAlign":"left","labelBaseline":"top","labelPadding":3,"tickSize":3,"tickColor":"#666666","domain":false,"grid":false,
    "labelFont":"Liberation Sans","labelFontSize":8.5,"labelColor":"#1E1E1E","labelOverlap":false,"labelFlush":false,"labelBound":false,"title":null}},
  "y":{"field":"l","type":"quantitative","scale":{"domain":[199.302,201.367],"nice":false,"zero":false},"title":null,
   "axis":{"orient":"right","values":[201.335,201.26,201.185,201.11,201.04,200.965,200.89,200.815,200.74,200.67,200.595,200.52,200.445,200.37,200.3,200.225,200.15,200.075,200,199.93,199.855,199.78,199.705,199.63,199.56,199.485,199.41,199.34],
    "format":".3f","tickSize":3,"tickColor":"#666666","labelPadding":2,"domain":false,"grid":false,
    "labelFont":"Liberation Sans","labelFontSize":9,"labelColor":"#1E1E1E","labelOverlap":false,"labelBound":false,"title":null}},
  "y2":{"field":"h"},
  "color":{"condition":{"test":"datum.c >= datum.o","value":"#F5AE9C"},"value":"#9A9C9F"}}},
{"data":{"name":"hl"},"transform":[{"filter":"datum.k=='g'"}],"mark":{"type":"rule","color":"#D3CEC9","strokeWidth":1},
 "encoding":{"y":{"field":"p","type":"quantitative","scale":{"domain":[199.302,201.367],"nice":false,"zero":false},"axis":null,"title":null}}},
{"data":{"name":"hl"},"transform":[{"filter":"datum.k=='g2'"}],"mark":{"type":"rule","color":"#DDD9D5","strokeWidth":1},
 "encoding":{"y":{"field":"p","type":"quantitative","scale":{"domain":[199.302,201.367],"nice":false,"zero":false},"axis":null,"title":null}}},
{"data":{"name":"hl"},"transform":[{"filter":"datum.k=='cur'"}],"mark":{"type":"rule","color":"#AAA7A4","strokeWidth":1},
 "encoding":{"y":{"field":"p","type":"quantitative","scale":{"domain":[199.302,201.367],"nice":false,"zero":false},"axis":null,"title":null}}},
{"data":{"name":"hl"},"transform":[{"filter":"datum.k=='b'"}],"mark":{"type":"rule","color":"#8EABCB","strokeWidth":1,"strokeDash":[6,3]},
 "encoding":{"y":{"field":"p","type":"quantitative","scale":{"domain":[199.302,201.367],"nice":false,"zero":false},"axis":null,"title":null}}},
{"data":{"name":"hl"},"transform":[{"filter":"datum.k=='p'"}],"mark":{"type":"rule","color":"#F592BC","strokeWidth":1,"strokeDash":[6,3]},
 "encoding":{"y":{"field":"p","type":"quantitative","scale":{"domain":[199.302,201.367],"nice":false,"zero":false},"axis":null,"title":null}}},
{"data":{"name":"hl"},"transform":[{"filter":"datum.k=='o'"}],"mark":{"type":"rule","color":"#F6C393","strokeWidth":1,"strokeDash":[8,4]},
 "encoding":{"y":{"field":"p","type":"quantitative","scale":{"domain":[199.302,201.367],"nice":false,"zero":false},"axis":null,"title":null}}},
{"data":{"name":"vl"},"transform":[{"filter":"datum.k=='o1'"}],"mark":{"type":"rule","color":"#F0BC86","strokeWidth":1},
 "encoding":{"x":{"field":"t","type":"temporal","scale":{"type":"utc","domain":[1758119142600,1758311559000],"padding":0},"axis":null,"title":null}}},
{"data":{"name":"vl"},"transform":[{"filter":"datum.k=='o2'"}],"mark":{"type":"rule","color":"#F7A53C","strokeWidth":1.2},
 "encoding":{"x":{"field":"t","type":"temporal","scale":{"type":"utc","domain":[1758119142600,1758311559000],"padding":0},"axis":null,"title":null}}},
{"data":{"name":"vl"},"transform":[{"filter":"datum.k=='pd'"}],"mark":{"type":"rule","color":"#E8868F","strokeWidth":1,"strokeDash":[5,3,1,3]},
 "encoding":{"x":{"field":"t","type":"temporal","scale":{"type":"utc","domain":[1758119142600,1758311559000],"padding":0},"axis":null,"title":null}}},
{"data":{"name":"vl"},"transform":[{"filter":"datum.k=='pk'"}],"mark":{"type":"rule","color":"#E8868F","strokeWidth":1,"strokeDash":[5,3]},
 "encoding":{"x":{"field":"t","type":"temporal","scale":{"type":"utc","domain":[1758119142600,1758311559000],"padding":0},"axis":null,"title":null}}},
{"data":{"name":"vl"},"transform":[{"filter":"datum.k=='gd'"}],"mark":{"type":"rule","color":"#A8A8A8","strokeWidth":1,"strokeDash":[1,2]},
 "encoding":{"x":{"field":"t","type":"temporal","scale":{"type":"utc","domain":[1758119142600,1758311559000],"padding":0},"axis":null,"title":null}}},
{"data":{"name":"c"},"mark":{"type":"rule","strokeWidth":1.3},
 "encoding":{
  "x":{"field":"t","type":"temporal","scale":{"type":"utc","domain":[1758119142600,1758311559000],"padding":0},"axis":null,"title":null},
  "y":{"field":"l","type":"quantitative","scale":{"domain":[199.302,201.367],"nice":false,"zero":false},"axis":null,"title":null},
  "y2":{"field":"h"},
  "color":{"condition":{"test":"datum.c >= datum.o","value":"#F5AE9C"},"value":"#9A9C9F"}}},
{"data":{"name":"c"},"mark":{"type":"bar","width":5},
 "encoding":{
  "x":{"field":"t","type":"temporal","scale":{"type":"utc","domain":[1758119142600,1758311559000],"padding":0},"axis":null,"title":null},
  "y":{"field":"o","type":"quantitative","scale":{"domain":[199.302,201.367],"nice":false,"zero":false},"axis":null,"title":null},
  "y2":{"field":"c"},
  "color":{"condition":{"test":"datum.c >= datum.o","value":"#FF6F52"},"value":"#29313A"}}},
{"data":{"name":"ind"},"transform":[{"filter":"datum.k=='s2'"}],"mark":{"type":"line","color":"#F6C7A0","strokeWidth":1},
 "encoding":{"x":{"field":"t","type":"temporal","scale":{"type":"utc","domain":[1758119142600,1758311559000],"padding":0},"axis":null,"title":null},
  "y":{"field":"v","type":"quantitative","scale":{"domain":[199.302,201.367],"nice":false,"zero":false},"axis":null,"title":null}}},
{"data":{"name":"ind"},"transform":[{"filter":"datum.k=='s1'"}],"mark":{"type":"line","color":"#F6B883","strokeWidth":1},
 "encoding":{"x":{"field":"t","type":"temporal","scale":{"type":"utc","domain":[1758119142600,1758311559000],"padding":0},"axis":null,"title":null},
  "y":{"field":"v","type":"quantitative","scale":{"domain":[199.302,201.367],"nice":false,"zero":false},"axis":null,"title":null}}},
{"data":{"name":"ind"},"transform":[{"filter":"datum.k=='ma'"}],"mark":{"type":"line","color":"#F28A3E","strokeWidth":1.3},
 "encoding":{"x":{"field":"t","type":"temporal","scale":{"type":"utc","domain":[1758119142600,1758311559000],"padding":0},"axis":null,"title":null},
  "y":{"field":"v","type":"quantitative","scale":{"domain":[199.302,201.367],"nice":false,"zero":false},"axis":null,"title":null}}},
{"data":{"name":"ind"},"transform":[{"filter":"datum.k=='bu'"}],"mark":{"type":"line","color":"#9496A2","strokeWidth":1,"strokeDash":[1.5,2.5],"clip":true},
 "encoding":{"x":{"field":"t","type":"temporal","scale":{"type":"utc","domain":[1758119142600,1758311559000],"padding":0},"axis":null,"title":null},
  "y":{"field":"v","type":"quantitative","scale":{"domain":[199.302,201.367],"nice":false,"zero":false},"axis":null,"title":null}}},
{"data":{"name":"ind"},"transform":[{"filter":"datum.k=='bl'"}],"mark":{"type":"line","color":"#9496A2","strokeWidth":1,"strokeDash":[1.5,2.5],"clip":true},
 "encoding":{"x":{"field":"t","type":"temporal","scale":{"type":"utc","domain":[1758119142600,1758311559000],"padding":0},"axis":null,"title":null},
  "y":{"field":"v","type":"quantitative","scale":{"domain":[199.302,201.367],"nice":false,"zero":false},"axis":null,"title":null}}},
{"data":{"name":"stroke"},"mark":{"type":"line","color":"#F07A70","opacity":0.82,"strokeWidth":10,"strokeCap":"round","interpolate":"monotone"},
 "encoding":{"x":{"field":"t","type":"temporal","scale":{"type":"utc","domain":[1758119142600,1758311559000],"padding":0},"axis":null,"title":null},
  "y":{"field":"p","type":"quantitative","scale":{"domain":[199.302,201.367],"nice":false,"zero":false},"axis":null,"title":null}}},
{"data":{"name":"circle"},"mark":{"type":"point","shape":"circle","size":1369,"filled":false,"stroke":"#F01818","strokeWidth":3.5,"opacity":1},
 "encoding":{"x":{"field":"t","type":"temporal","scale":{"type":"utc","domain":[1758119142600,1758311559000],"padding":0},"axis":null,"title":null},
  "y":{"field":"p","type":"quantitative","scale":{"domain":[199.302,201.367],"nice":false,"zero":false},"axis":null,"title":null}}},
{"data":{"name":"arrow"},"mark":{"type":"line","color":"#F01818","strokeWidth":4},
 "encoding":{"x":{"field":"t","type":"temporal","scale":{"type":"utc","domain":[1758119142600,1758311559000],"padding":0},"axis":null,"title":null},
  "y":{"field":"p","type":"quantitative","scale":{"domain":[199.302,201.367],"nice":false,"zero":false},"axis":null,"title":null}}},
{"data":{"name":"head"},"mark":{"type":"point","shape":"triangle-up","size":330,"filled":true,"color":"#F01818","opacity":1,"angle":18},
 "encoding":{"x":{"field":"t","type":"temporal","scale":{"type":"utc","domain":[1758119142600,1758311559000],"padding":0},"axis":null,"title":null},
  "y":{"field":"p","type":"quantitative","scale":{"domain":[199.302,201.367],"nice":false,"zero":false},"axis":null,"title":null}}},
{"data":{"name":"dot"},"mark":{"type":"point","shape":"circle","size":160,"filled":true,"color":"#F01818","opacity":1},
 "encoding":{"x":{"field":"t","type":"temporal","scale":{"type":"utc","domain":[1758119142600,1758311559000],"padding":0},"axis":null,"title":null},
  "y":{"field":"p","type":"quantitative","scale":{"domain":[199.302,201.367],"nice":false,"zero":false},"axis":null,"title":null}}},
{"data":{"name":"boxes","format":{"parse":{"t":"date","t2":"date","tm":"date"}}},"transform":[{"filter":"datum.k=='sym'"}],"mark":{"type":"rect","color":"#232B33"},
 "encoding":{"x":{"field":"t","type":"temporal","scale":{"type":"utc","domain":[1758119142600,1758311559000],"padding":0},"axis":null,"title":null},"x2":{"field":"t2"},
  "y":{"field":"p","type":"quantitative","scale":{"domain":[199.302,201.367],"nice":false,"zero":false},"axis":null,"title":null},"y2":{"field":"p2"}}},
{"data":{"name":"boxes","format":{"parse":{"t":"date","t2":"date","tm":"date"}}},"transform":[{"filter":"datum.k=='sym'"}],"mark":{"type":"text","color":"#E6E6E6","font":"Liberation Sans","fontSize":16,"align":"center","baseline":"middle"},
 "encoding":{"x":{"field":"tm","type":"temporal","scale":{"type":"utc","domain":[1758119142600,1758311559000],"padding":0},"axis":null,"title":null},
  "y":{"field":"pm","type":"quantitative","scale":{"domain":[199.302,201.367],"nice":false,"zero":false},"axis":null,"title":null},"text":{"field":"txt"}}},
{"data":{"name":"boxes","format":{"parse":{"t":"date","t2":"date","tm":"date"}}},"transform":[{"filter":"datum.k=='px'"}],"mark":{"type":"rect","color":"#000000"},
 "encoding":{"x":{"field":"t","type":"temporal","scale":{"type":"utc","domain":[1758119142600,1758311559000],"padding":0},"axis":null,"title":null},"x2":{"field":"t2"},
  "y":{"field":"p","type":"quantitative","scale":{"domain":[199.302,201.367],"nice":false,"zero":false},"axis":null,"title":null},"y2":{"field":"p2"}}},
{"data":{"name":"boxes","format":{"parse":{"t":"date","t2":"date","tm":"date"}}},"transform":[{"filter":"datum.k=='px'"}],"mark":{"type":"text","color":"#FFFFFF","font":"Liberation Sans","fontSize":9,"align":"left","baseline":"middle"},
 "encoding":{"x":{"field":"tm","type":"temporal","scale":{"type":"utc","domain":[1758119142600,1758311559000],"padding":0},"axis":null,"title":null},
  "y":{"field":"pm","type":"quantitative","scale":{"domain":[199.302,201.367],"nice":false,"zero":false},"axis":null,"title":null},"text":{"field":"txt"}}},
{"data":{"name":"hdr"},"mark":{"type":"text","color":"#1E1E1E","font":"Liberation Sans","fontSize":8,"align":"left","baseline":"middle"},
 "encoding":{"x":{"field":"t","type":"temporal","scale":{"type":"utc","domain":[1758119142600,1758311559000],"padding":0},"axis":null,"title":null},
  "y":{"field":"p","type":"quantitative","scale":{"domain":[199.302,201.367],"nice":false,"zero":false},"axis":null,"title":null},"text":{"field":"txt"}}},
{"data":{"name":"tri"},"mark":{"type":"point","shape":"triangle-down","size":45,"filled":true,"color":"#5A5A5A","opacity":1},
 "encoding":{"x":{"field":"t","type":"temporal","scale":{"type":"utc","domain":[1758119142600,1758311559000],"padding":0},"axis":null,"title":null},
  "y":{"field":"p","type":"quantitative","scale":{"domain":[199.302,201.367],"nice":false,"zero":false},"axis":null,"title":null}}}
]
}
